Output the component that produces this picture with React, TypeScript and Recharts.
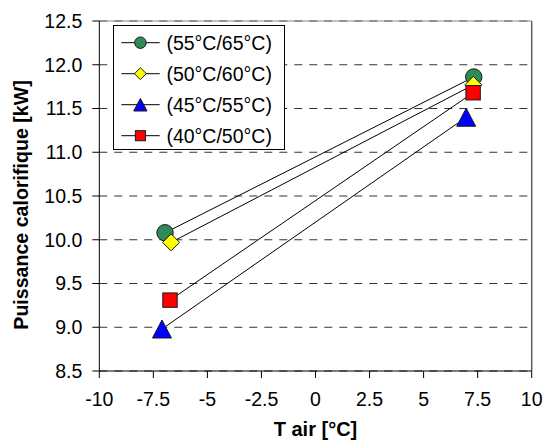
import React from 'react';
import { ScatterChart, Scatter, XAxis, YAxis, CartesianGrid, ReferenceLine, Legend } from 'recharts';

const xTicks = [-10, -7.5, -5, -2.5, 0, 2.5, 5, 7.5, 10];
const yTicks = [8.5, 9, 9.5, 10, 10.5, 11, 11.5, 12, 12.5];
const seriesNames = ['(55°C/65°C)', '(50°C/60°C)', '(45°C/55°C)', '(40°C/50°C)'];
const seriesColors = ['#2e8b57', '#ffff00', '#0000ff', '#ff0000'];
const seriesShapes = ['circle', 'diamond', 'triangle', 'square'];

const tAir55 = [-6.96, 7.32];
const p55 = [10.08, 11.86];
const tAir50 = [-6.68, 7.3];
const p50 = [9.97, 11.77];
const tAir45 = [-7.1, 6.97];
const p45 = [8.98, 11.4];
const tAir40 = [-6.73, 7.29];
const p40 = [9.31, 11.68];

const xTitle = 'T air [°C]';
const yTitle = 'Puissance calorifique [kW]';

const toPoints = (xs: number[], ys: number[]) => xs.map((x, i) => ({ x, y: ys[i] }));
const seriesData = [toPoints(tAir55, p55), toPoints(tAir50, p50), toPoints(tAir45, p45), toPoints(tAir40, p40)];

const FONT = '"Liberation Sans", Arial, sans-serif';

function Marker({ kind, cx, cy, fill, scale = 1 }: { kind: string; cx: number; cy: number; fill: string; scale?: number }) {
  if (kind === 'circle') {
    return <circle cx={cx} cy={cy} r={8.2 * scale} fill={fill} stroke="#1a1a1a" strokeWidth={1} />;
  }
  if (kind === 'diamond') {
    const d = 8.5 * scale;
    return <polygon points={`${cx},${cy - d} ${cx + d},${cy} ${cx},${cy + d} ${cx - d},${cy}`} fill={fill} stroke="#1a1a1a" strokeWidth={1} />;
  }
  if (kind === 'triangle') {
    const w = 9.5 * scale;
    const h = 9 * scale;
    return <polygon points={`${cx},${cy - h} ${cx + w},${cy + h} ${cx - w},${cy + h}`} fill={fill} stroke="#1a1a1a" strokeWidth={1} />;
  }
  const s = 7.2 * scale;
  return <rect x={cx - s} y={cy - s} width={2 * s} height={2 * s} fill={fill} stroke="#1a1a1a" strokeWidth={1} />;
}

const renderLegend = () => (
  <svg width={172} height={125} style={{ display: 'block' }}>
    <rect x={0.5} y={0.5} width={171} height={124} fill="#fff" stroke="#000" strokeWidth={1} />
    {seriesNames.map((name, i) => {
      const cy = 17.7 + i * 31;
      return (
        <g key={name}>
          <line x1={8.4} x2={46.7} y1={cy} y2={cy} stroke="#000" strokeWidth={1} />
          <Marker kind={seriesShapes[i]} cx={27.4} cy={cy} fill={seriesColors[i]} scale={0.7} />
          <text x={53.4} y={cy} dy="0.355em" fontFamily={FONT} fontSize={19.5} fill="#000">{name}</text>
        </g>
      );
    })}
  </svg>
);

export default function App() {
  return (
    <div style={{ position: 'absolute', left: 0, top: 0, background: '#fff' }}>
      <ScatterChart width={545} height={441} margin={{ top: 21, right: 13.3, left: 0, bottom: 0 }}>
        <CartesianGrid horizontal vertical={false} stroke="#333" strokeDasharray="8 7" />
        <ReferenceLine x={10} stroke="#606060" strokeWidth={1.5} ifOverflow="visible" />
        <ReferenceLine y={12.5} stroke="#888" strokeWidth={1} ifOverflow="visible" />
        <XAxis
          type="number"
          dataKey="x"
          domain={[-10, 10]}
          ticks={xTicks}
          height={70}
          tickSize={7}
          tickMargin={14}
          stroke="#000"
          tick={{ fill: '#000', fontSize: 19.5, fontFamily: FONT }}
          allowDataOverflow
          label={{
            content: (props: any) => {
              const vb = props.viewBox || { x: 99.3, width: 432.4, y: 371 };
              return (
                <text x={vb.x + vb.width / 2} y={436} textAnchor="middle" fontFamily={FONT} fontSize={20} fontWeight="bold" fill="#000">
                  {xTitle}
                </text>
              );
            },
          }}
        />
        <YAxis
          type="number"
          dataKey="y"
          domain={[8.5, 12.5]}
          ticks={yTicks}
          width={99.3}
          tickSize={7}
          tickMargin={10}
          stroke="#000"
          tickFormatter={(v: number) => v.toFixed(1)}
          tick={{ fill: '#000', fontSize: 19.5, fontFamily: FONT }}
          allowDataOverflow
          label={{
            content: () => (
              <text x={27.5} y={205} transform="rotate(-90, 27.5, 205)" textAnchor="middle" fontFamily={FONT} fontSize={19.6} fontWeight="bold" fill="#000">
                {yTitle}
              </text>
            ),
          }}
        />
        <Legend
          layout="horizontal"
          verticalAlign="middle"
          align="center"
          content={renderLegend}
          wrapperStyle={{ position: 'absolute', left: 113, top: 25, width: 172, height: 125 }}
        />
        {seriesData.map((data, i) => (
          <Scatter
            key={seriesNames[i]}
            name={seriesNames[i]}
            data={data}
            line={{ stroke: '#000', strokeWidth: 1 }}
            isAnimationActive={false}
            shape={(p: any) => <Marker kind={seriesShapes[i]} cx={p.cx} cy={p.cy} fill={seriesColors[i]} />}
          />
        ))}
      </ScatterChart>
    </div>
  );
}
